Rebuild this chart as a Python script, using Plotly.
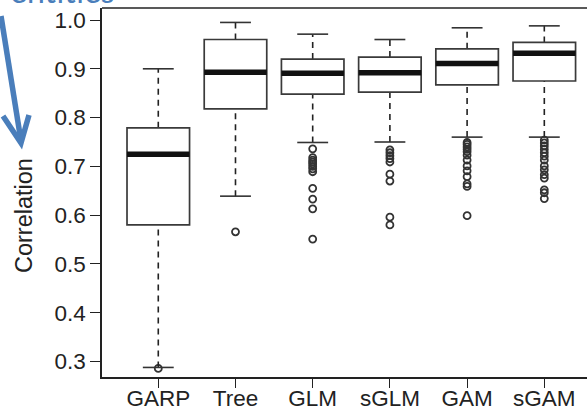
import plotly.graph_objects as go

# ---- data ----
categories = ["GARP", "Tree", "GLM", "sGLM", "GAM", "sGAM"]
upper_whisker = [0.900, 0.995, 0.971, 0.960, 0.984, 0.988]
q3_values = [0.779, 0.960, 0.920, 0.924, 0.941, 0.954]
medians = [0.725, 0.893, 0.891, 0.892, 0.911, 0.932]
q1_values = [0.580, 0.818, 0.848, 0.852, 0.867, 0.875]
lower_whisker = [0.288, 0.639, 0.749, 0.750, 0.760, 0.760]

outliers_garp = [0.286]
outliers_tree = [0.566]
outliers_glm = [0.736, 0.718, 0.713, 0.709, 0.705, 0.700, 0.695, 0.689, 0.655, 0.633, 0.613, 0.551]
outliers_sglm = [0.734, 0.728, 0.722, 0.716, 0.709, 0.684, 0.670, 0.596, 0.580]
outliers_gam = [0.749, 0.745, 0.740, 0.735, 0.730, 0.723, 0.713, 0.701, 0.691, 0.679, 0.664, 0.659, 0.599]
outliers_sgam = [0.754, 0.748, 0.742, 0.735, 0.728, 0.721, 0.713, 0.701, 0.693, 0.683, 0.676, 0.652, 0.646, 0.634]
outliers = [outliers_garp, outliers_tree, outliers_glm, outliers_sglm, outliers_gam, outliers_sgam]

y_ticks = [0.3, 0.4, 0.5, 0.6, 0.7, 0.8, 0.9, 1.0]
y_ticktext = ["0.3", "0.4", "0.5", "0.6", "0.7", "0.8", "0.9", "1.0"]
y_title = "Correlation"

# ---- layout geometry ----
W, H = 587, 410
L, R, T, B = 102, 0, 8, 33
BOX_HALF = 0.405
CAP_HALF = 0.2
FONT = "Liberation Sans, Arial, Helvetica, sans-serif"
BLUE = "#4a7ebb"


def pxx(xp):
    return (xp - L) / (W - L - R)


def pxy(yp):
    return 1 - (yp - T) / (H - T - B)


fig = go.Figure()
shapes = []
pos = list(range(len(categories)))

for i, c in enumerate(categories):
    x = pos[i]
    # whiskers (dashed)
    shapes.append(dict(type="line", xref="x", yref="y", x0=x, x1=x, y0=q3_values[i], y1=upper_whisker[i],
                       line=dict(color="#222", width=1.6, dash="6px,5px")))
    shapes.append(dict(type="line", xref="x", yref="y", x0=x, x1=x, y0=lower_whisker[i], y1=q1_values[i],
                       line=dict(color="#222", width=1.6, dash="6px,5px")))
    # caps
    for v in (upper_whisker[i], lower_whisker[i]):
        shapes.append(dict(type="line", xref="x", yref="y", x0=x - CAP_HALF, x1=x + CAP_HALF, y0=v, y1=v,
                           line=dict(color="#333", width=1.6)))
    # box
    shapes.append(dict(type="rect", xref="x", yref="y", x0=x - BOX_HALF, x1=x + BOX_HALF,
                       y0=q1_values[i], y1=q3_values[i], fillcolor="white",
                       line=dict(color="#3a3a3a", width=1.7)))
    # median
    shapes.append(dict(type="line", xref="x", yref="y", x0=x - BOX_HALF, x1=x + BOX_HALF,
                       y0=medians[i], y1=medians[i], line=dict(color="#111", width=5.5)))

    fig.add_trace(go.Scatter(
        x=[x] * len(outliers[i]), y=outliers[i], mode="markers",
        marker=dict(symbol="circle-open", size=7, color="#333", line=dict(width=1.8, color="#333")),
        showlegend=False, hoverinfo="y"))

# top frame line
shapes.append(dict(type="line", xref="paper", yref="paper", x0=0, x1=1, y0=1, y1=1,
                   line=dict(color="#222", width=1.5)))

# blue decorative arrow (outside the plot)
shapes.append(dict(type="line", xref="paper", yref="paper", x0=pxx(1), y0=pxy(16), x1=pxx(21), y1=pxy(141),
                   line=dict(color=BLUE, width=5.5)))
shapes.append(dict(type="path", xref="paper", yref="paper",
                   path=f"M {pxx(3)},{pxy(116)} L {pxx(21)},{pxy(143)} L {pxx(29)},{pxy(115)}",
                   line=dict(color=BLUE, width=5.5)))

fig.update_layout(
    width=W, height=H,
    margin=dict(l=L, r=R, t=T, b=B, pad=0, autoexpand=False),
    paper_bgcolor="white", plot_bgcolor="white",
    shapes=shapes,
    showlegend=False,
    font=dict(family=FONT, color="#222"),
    xaxis=dict(
        range=[-0.729, 5.553], tickmode="array", tickvals=pos, ticktext=categories,
        showgrid=False, zeroline=False, showline=True, linecolor="#222", linewidth=1.5,
        ticks="outside", ticklen=9, tickwidth=1.4, tickcolor="#222", automargin=False,
        ticklabelstandoff=-9,
        tickfont=dict(size=22.5, family=FONT, color="#222"),
    ),
    yaxis=dict(
        range=[0.2684, 1.0246], tickmode="array", tickvals=y_ticks, ticktext=y_ticktext,
        showgrid=False, zeroline=False, showline=True, linecolor="#222", linewidth=1.5,
        ticks="outside", ticklen=10, tickwidth=1.4, tickcolor="#222", automargin=False,
        tickfont=dict(size=22.5, family=FONT, color="#222"),
    ),
    annotations=[
        dict(text=y_title, xref="paper", yref="paper", x=pxx(24), y=pxy(216),
             xanchor="center", yanchor="middle", textangle=-90, showarrow=False,
             font=dict(size=23.5, family=FONT, color="#222")),
        dict(text="entities", xref="paper", yref="paper", x=pxx(8), y=pxy(12),
             xanchor="left", yanchor="bottom", showarrow=False,
             font=dict(size=32, family="Lato, Open Sans, sans-serif", color=BLUE)),
    ],
)

fig.write_html("out.html")
